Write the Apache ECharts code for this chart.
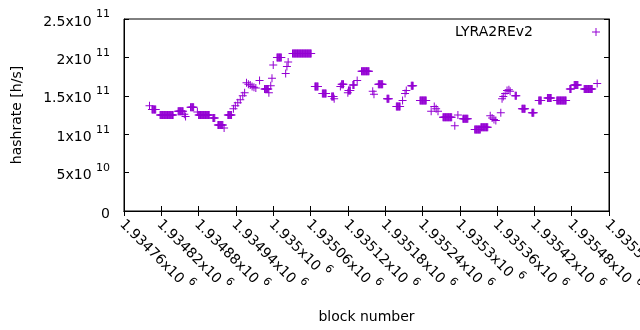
<!DOCTYPE html>
<html>
<head>
<meta charset="utf-8">
<script src="https://cdn.jsdelivr.net/npm/echarts@6/dist/echarts.min.js"></script>
<style>
html,body{margin:0;padding:0;background:#fff;}
#chart{width:640px;height:330px;}
</style>
</head>
<body>
<div id="chart"></div>
<script>
// runs of blocks with the same estimated hashrate (GH/s)
var runStart = [1934801,1934805,1934818,1934847,1934857,1934859,1934867,1934878,1934880,1934903,
    1934911,1934921,1934927,1934936,1934939,1934943,1934947,1934951,1934954,1934957,
    1934960,1934963,1934966,1934969,1934972,1934978,1934986,1934993,1934996,1934998,
    1935000,1935006,1935020,1935022,1935024,1935031,1935067,1935079,1935094,1935098,
    1935108,1935110,1935120,1935121,1935128,1935135,1935142,1935160,1935162,1935169,
    1935183,1935198,1935208,1935212,1935214,1935222,1935236,1935254,1935259,1935262,
    1935265,1935273,1935292,1935297,1935305,1935324,1935334,1935349,1935352,1935355,
    1935358,1935366,1935368,1935370,1935373,1935376,1935379,1935381,1935389,1935400,
    1935416,1935427,1935441,1935456,1935477,1935484,1935500,1935521];
var runEnd = [1934801,1934811,1934839,1934855,1934857,1934859,1934872,1934878,1934897,1934906,
    1934919,1934921,1934933,1934936,1934939,1934943,1934947,1934951,1934954,1934957,
    1934960,1934963,1934966,1934969,1934972,1934978,1934992,1934993,1934996,1934998,
    1935000,1935013,1935020,1935022,1935024,1935061,1935072,1935085,1935097,1935098,
    1935108,1935113,1935120,1935124,1935130,1935135,1935154,1935160,1935162,1935176,
    1935186,1935204,1935208,1935212,1935214,1935225,1935246,1935254,1935259,1935262,
    1935265,1935287,1935292,1935297,1935313,1935333,1935345,1935349,1935352,1935355,
    1935358,1935366,1935368,1935370,1935373,1935376,1935379,1935381,1935391,1935405,
    1935419,1935431,1935447,1935471,1935479,1935490,1935513,1935521];
var runRate = [137,132,125,130,126,123,135,129,125,121,
    112,108,125,133,137,141,145,150,154,167,
    165,164,162,161,160,170,159,154,163,173,
    190,200,179,188,194,205,162,153,149,146,
    162,165,154,157,164,170,182,156,152,165,
    146,136,144,153,157,163,144,130,136,133,
    130,122,111,125,120,106,109,124,121,119,
    118,128,146,149,153,157,158,156,150,133,
    128,144,147,144,159,164,159,166];

var seriesName = 'LYRA2REv2';
var xMin = 1934760, xMax = 1935540, xStep = 60;
var yMin = 0, yMax = 2.5e11, yStep = 5e10;

var FONT = 'DejaVu Sans';
var PURPLE = '#9400d3';
var PLUS = 'path://M7,0H9V7H16V9H9V16H7V9H0V7H7Z';

var points = [];
for (var i = 0; i < runStart.length; i++)
    for (var b = runStart[i]; b <= runEnd[i]; b++)
        points.push([b, runRate[i] * 1e9]);

// gnuplot style "2.5x10^11"
function sciLabel(v) {
    if (v === 0) return '{b|0}';
    var e = Math.floor(Math.log10(Math.abs(v)) + 1e-9);
    var m = parseFloat((v / Math.pow(10, e)).toPrecision(6));
    return '{b|' + m + 'x10 }{s|' + e + '}';
}
var labelRich = {
    b: {fontFamily: FONT, fontSize: 14, color: '#000', verticalAlign: 'bottom', lineHeight: 20},
    s: {fontFamily: FONT, fontSize: 11, color: '#000', verticalAlign: 'top', lineHeight: 12}
};

var chart = echarts.init(document.getElementById('chart'), null, {renderer: 'canvas'});
var option = {
    animation: false,
    backgroundColor: '#fff',
    grid: {left: 124, right: 31, top: 19, bottom: 119, outerBoundsMode: 'none',
        show: true, borderColor: '#000', borderWidth: 1},
    legend: {
        data: [seriesName],
        right: 35, top: 20,
        align: 'right',
        icon: PLUS,
        itemWidth: 8, itemHeight: 8,
        textStyle: {fontFamily: FONT, fontSize: 14, color: '#000', padding: [0, 54, 0, 0]}
    },
    xAxis: [{
        type: 'value', min: xMin, max: xMax, interval: xStep,
        name: 'block number', nameLocation: 'middle', nameGap: 99,
        nameTextStyle: {fontFamily: FONT, fontSize: 14, color: '#000'},
        axisLine: {lineStyle: {color: '#000'}},
        axisTick: {inside: true, length: 5, lineStyle: {color: '#000'}},
        splitLine: {show: false},
        axisLabel: {rotate: -45, margin: 9, formatter: sciLabel, rich: labelRich, showMaxLabel: true}
    }, {
        type: 'value', position: 'top', min: xMin, max: xMax, interval: xStep,
        axisLine: {lineStyle: {color: '#000'}},
        axisTick: {inside: true, length: 5, lineStyle: {color: '#000'}},
        axisLabel: {show: false}, splitLine: {show: false}
    }],
    yAxis: [{
        type: 'value', min: yMin, max: yMax, interval: yStep,
        name: 'hashrate [h/s]', nameLocation: 'middle', nameGap: 100,
        nameTextStyle: {fontFamily: FONT, fontSize: 14, color: '#000'},
        axisLine: {show: true, lineStyle: {color: '#000'}},
        axisTick: {show: true, inside: true, length: 5, lineStyle: {color: '#000'}},
        splitLine: {show: false},
        axisLabel: {margin: 14, formatter: sciLabel, rich: labelRich}
    }, {
        type: 'value', position: 'right', min: yMin, max: yMax, interval: yStep,
        axisLine: {show: true, lineStyle: {color: '#000'}},
        axisTick: {show: true, inside: true, length: 5, lineStyle: {color: '#000'}},
        axisLabel: {show: false}, splitLine: {show: false}
    }],
    series: [{
        name: seriesName,
        type: 'scatter',
        symbol: PLUS,
        symbolSize: 8,
        itemStyle: {color: PURPLE, opacity: 1},
        data: points
    }]
};
chart.setOption(option);
</script>
</body>
</html>
